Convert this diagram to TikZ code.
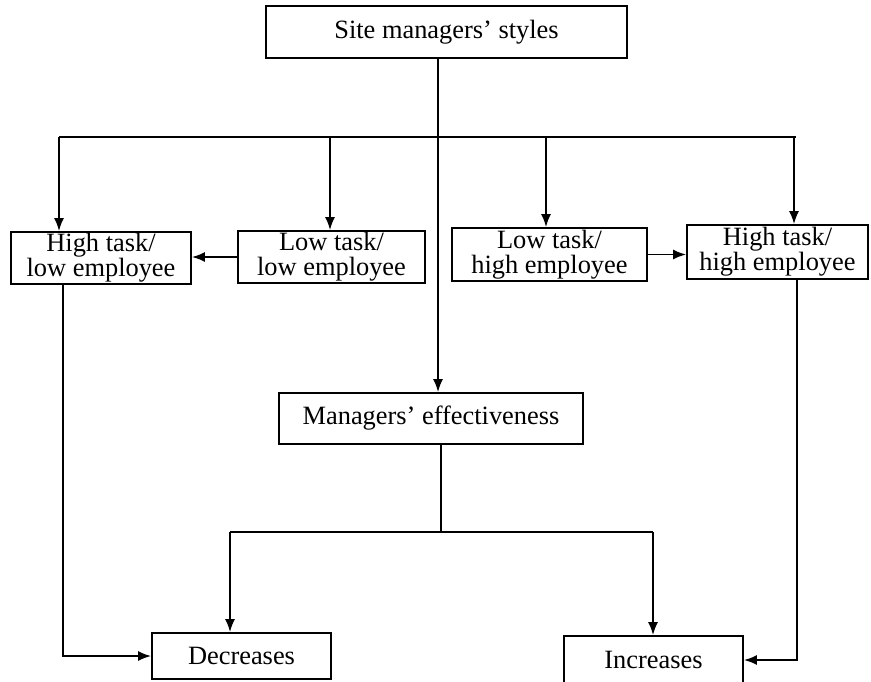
\documentclass[tikz,border=0pt]{standalone}
\usepackage{fontspec}
\setmainfont{Liberation Serif}
\usetikzlibrary{arrows.meta}
\begin{document}
\begin{tikzpicture}[x=0.5pt, y=-0.5pt,
      box/.style={draw, line width=0.9pt, fill=white, align=center, inner sep=0.5pt,
        font=\fontsize{13.2}{12.6}\selectfont},
      arr/.style={line width=0.9pt, -{Latex[length=6.5pt,width=5pt]}},
      ln/.style={line width=0.9pt}]
      \useasboundingbox (0,0) rectangle (871,681);
      % Top node
      \node (styles) [box, minimum width=180.5pt, minimum height=26pt] at (446.5,32) {Site managers' styles};
      % The four styles
      \node (htle) [box, minimum width=90pt, minimum height=26pt] at (101,258) {High task/\\low employee};
      \node (ltle) [box, minimum width=93.5pt, minimum height=26pt] at (331.5,257) {Low task/\\low employee};
      \node (lthe) [box, minimum width=97.5pt, minimum height=26.5pt] at (549.5,254.5) {Low task/\\high employee};
      \node (hthe) [box, minimum width=90.5pt, minimum height=27pt] at (777.5,252) {High task/\\high employee};
      % Middle node
      \node (eff) [box, minimum width=152pt, minimum height=25.5pt] at (431,418.5) {Managers' effectiveness};
      % Outcomes
      \node (dec) [box, minimum width=89.5pt, minimum height=23pt] at (241.5,656) {Decreases};
      \node (inc) [box, minimum width=89.5pt, minimum height=24pt] at (653.5,660) {Increases};
      % Branch points
      \coordinate (split) at (438,137);
      \coordinate (fork) at (441,532);
      % Connectors from the top
      \draw[arr] (styles.south -| split) -- (eff.north -| split);
      \draw[ln] (59,137) -- (796,137);
      \draw[arr] (59,137) -- (htle.north -| 59,0);
      \draw[arr] (330,137) -- (ltle.north -| 330,0);
      \draw[arr] (546,137) -- (lthe.north -| 546,0);
      \draw[arr] (794,137) -- (hthe.north -| 794,0);
      % Between the styles
      \draw[arr] (ltle.west) -- (htle.east |- ltle.west);
      \draw[arr] (lthe.east) -- (hthe.west |- lthe.east);
      % Down to the outcomes
      \draw[ln] (eff.south -| fork) -- (fork);
      \draw[ln] (230,532) -- (653,532);
      \draw[arr] (230,532) -- (dec.north -| 230,0);
      \draw[arr] (653,532) -- (inc.north -| 653,0);
      \draw[arr] (htle.south -| 63,0) |- (dec.west);
      \draw[arr] (hthe.south -| 797,0) |- (inc.east);
\end{tikzpicture}
\end{document}
